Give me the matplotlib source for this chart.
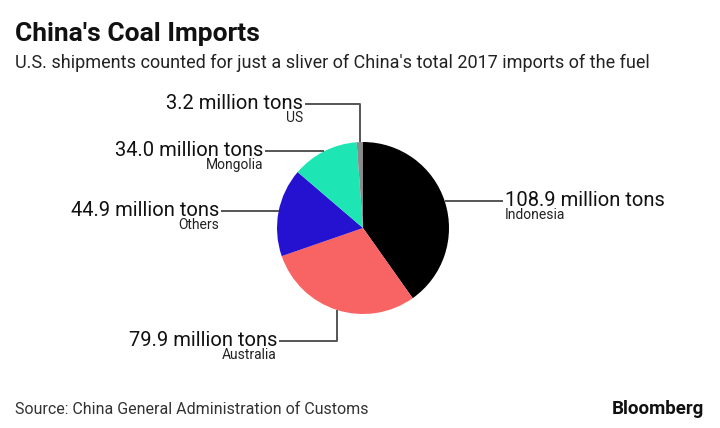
import numpy as np
import matplotlib
matplotlib.use("Agg")
import matplotlib.pyplot as plt

# data
countries = ["Indonesia", "Australia", "Others", "Mongolia", "US"]
imports_mt = [108.9, 79.9, 44.9, 34.0, 3.2]
colors = ["#000000", "#f86464", "#2412d0", "#1de6b4", "#8a8a8a"]

# label layout (pixel coords, y from top): text anchor x, y, alignment, elbow
label_pos = {
    "Indonesia": (503, 201, "left", None),
    "Australia": (279, 341, "right", "v"),
    "Others": (221, 211, "right", None),
    "Mongolia": (265, 151, "right", None),
    "US": (305, 104, "right", "v"),
}

W, H = 720, 428
plt.rcParams["font.family"] = ["Roboto", "DejaVu Sans"]
fig = plt.figure(figsize=(W / 100, H / 100), dpi=100)
ax = fig.add_axes([0, 0, 1, 1])

cx, cy, r = 363, H - 228, 86
wedges, _ = ax.pie(imports_mt, colors=colors, startangle=90, counterclock=False,
                   radius=r, center=(cx, cy), frame=True,
                   wedgeprops=dict(linewidth=0))
ax.set_xlim(0, W)
ax.set_ylim(0, H)
ax.set_aspect("equal")
ax.axis("off")

line_col = "#555555"
for w, name, val in zip(wedges, countries, imports_mt):
    mid = np.deg2rad((w.theta1 + w.theta2) / 2)
    px, py = cx + r * np.cos(mid), cy + r * np.sin(mid)
    tx, ty, ha, elbow = label_pos[name]
    ty = H - ty
    gap = 2 if ha == "left" else -2
    if elbow == "v":
        ax.plot([tx, px, px], [ty, ty, py], color=line_col, lw=1.4,
                solid_capstyle="butt")
    else:
        ax.plot([tx, px], [ty, ty], color=line_col, lw=1.4,
                solid_capstyle="butt")
    ax.text(tx + gap, ty + 1, f"{val:.1f} million tons", ha=ha, va="center",
            fontsize=14.5, color="#111111")
    ax.text(tx + gap, ty - 14, name, ha=ha, va="center",
            fontsize=10, color="#222222")

fig.text(15 / W, 1 - 34 / H, "China's Coal Imports", fontsize=19,
         fontweight="bold", va="center", ha="left", color="#111111")
fig.text(15 / W, 1 - 63 / H,
         "U.S. shipments counted for just a sliver of China's total 2017 imports of the fuel",
         fontsize=13, va="center", ha="left", color="#222222")
fig.text(15 / W, 1 - 409 / H, "Source: China General Administration of Customs",
         fontsize=11.5, va="center", ha="left", color="#333333")
fig.text(704 / W, 1 - 409 / H, "Bloomberg", fontsize=13.5, fontweight="bold",
         va="center", ha="right", color="#111111")

fig.savefig("out.png", dpi=100, facecolor="white")
